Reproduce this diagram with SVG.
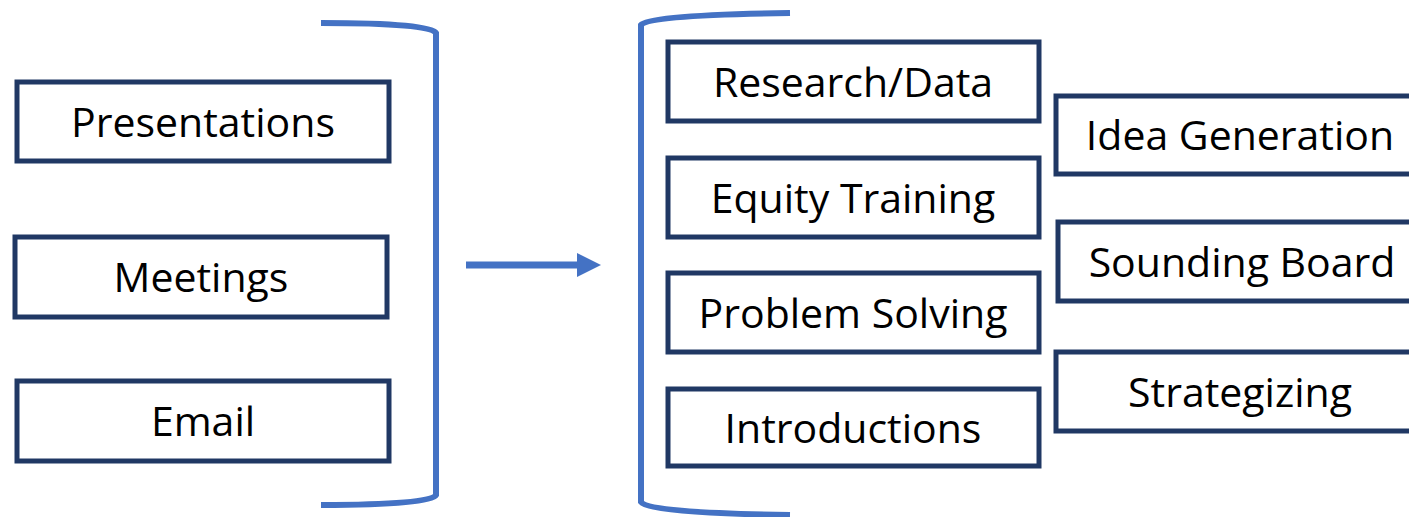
<svg xmlns="http://www.w3.org/2000/svg" width="1409" height="517" viewBox="0 0 1409 517">
<style>
.box{fill:#fff;stroke:#203864;stroke-width:5}
.lbl{font-family:"Open Sans","Liberation Sans",sans-serif;font-size:41px;fill:#000;text-anchor:middle;dominant-baseline:central}
.br{fill:none;stroke:#4472C4;stroke-width:6}
</style>
<defs>
<marker id="ah" markerWidth="24" markerHeight="24" refX="0" refY="12" markerUnits="userSpaceOnUse" orient="auto">
<path d="M0,0 L24,12 L0,24 Z" fill="#4472C4"/>
</marker>
</defs>
<g id="connectors">
<path class="br" d="M321,23 Q430,23 436,33 L436,495 Q430,505 321,505"/>
<path class="br" d="M790,13 Q648,15 641,25 L641,502 Q648,513 790,515"/>
<line x1="466" y1="265" x2="577" y2="265" stroke="#4472C4" stroke-width="7" marker-end="url(#ah)"/>
</g>
<g id="n-presentations"><rect class="box" x="17" y="82" width="372" height="79"/><text class="lbl" x="203" y="121">Presentations</text></g>
<g id="n-meetings"><rect class="box" x="15" y="237" width="372" height="80"/><text class="lbl" x="201" y="276">Meetings</text></g>
<g id="n-email"><rect class="box" x="17" y="381" width="372" height="80"/><text class="lbl" x="203" y="420">Email</text></g>
<g id="n-research"><rect class="box" x="668" y="42" width="371" height="79"/><text class="lbl" x="853" y="81">Research/Data</text></g>
<g id="n-equity"><rect class="box" x="668" y="158" width="371" height="79"/><text class="lbl" x="853" y="197">Equity Training</text></g>
<g id="n-problem"><rect class="box" x="668" y="273" width="371" height="79"/><text class="lbl" x="853" y="312">Problem Solving</text></g>
<g id="n-intro"><rect class="box" x="668" y="389" width="371" height="77"/><text class="lbl" x="853" y="427">Introductions</text></g>
<g id="n-idea"><rect class="box" x="1056" y="96" width="370" height="78"/><text class="lbl" x="1240" y="134">Idea Generation</text></g>
<g id="n-sounding"><rect class="box" x="1058" y="222" width="370" height="79"/><text class="lbl" x="1242" y="261">Sounding Board</text></g>
<g id="n-strat"><rect class="box" x="1056" y="352" width="370" height="79"/><text class="lbl" x="1240" y="391">Strategizing</text></g>
</svg>
